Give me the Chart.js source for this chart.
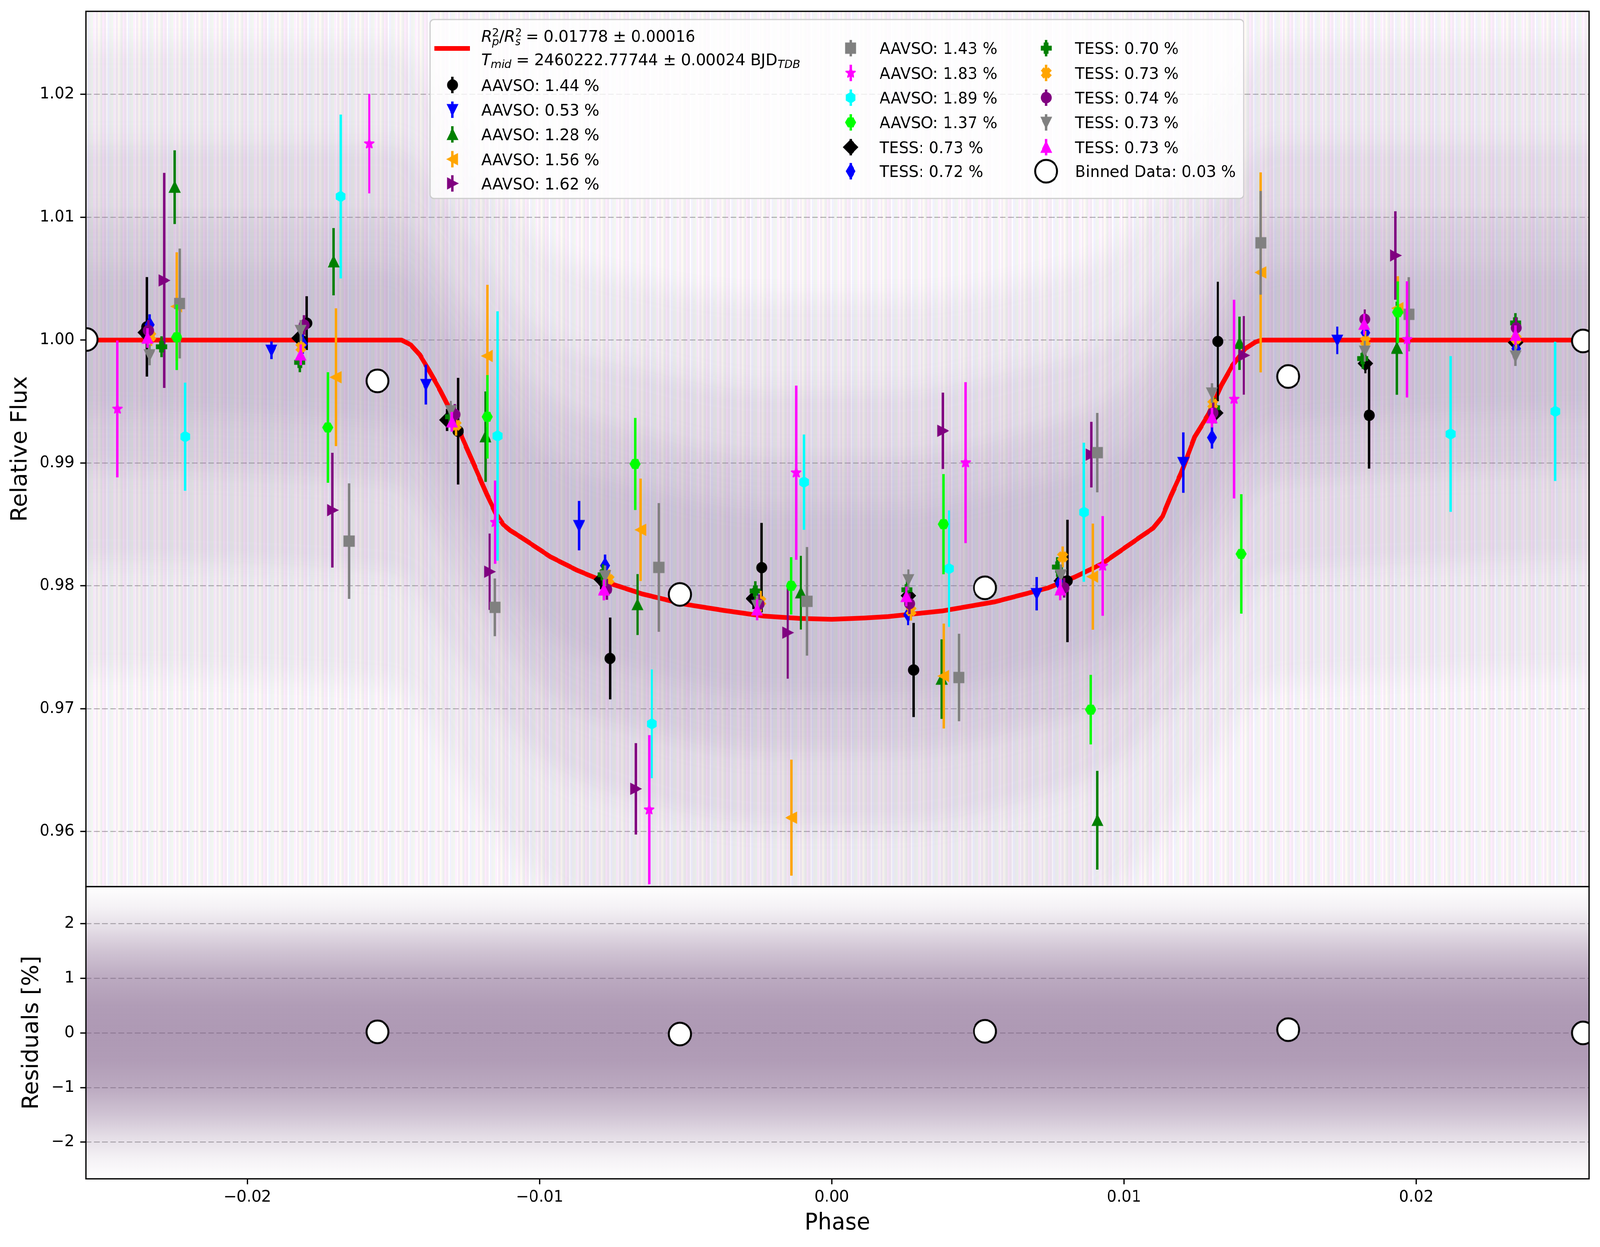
<!DOCTYPE html>
<html lang="en">
<head>
  <meta charset="UTF-8" />
  <title>Transit light curve</title>
  <script src="https://cdn.jsdelivr.net/npm/chart.js"></script>
  <style>
    html, body { margin: 0; padding: 0; background: #fff; overflow: hidden; }
    #stage { position: absolute; left: 0; top: 0; width: 4215px; height: 3192px; transform-origin: 0 0; }
    .panel { position: absolute; left: 0; width: 4215px; }
    #top-panel { top: 0; height: 2300px; z-index: 2; }
    #bottom-panel { top: 2200px; height: 992px; z-index: 1; }
  </style>
</head>
<body>
  <div id="stage">
    <div class="panel" id="top-panel"><canvas id="fluxChart"></canvas></div>
    <div class="panel" id="bottom-panel"><canvas id="residChart"></canvas></div>
  </div>

  <script>
    // ---- data ----
    const aavso144Phase = [-0.02344, -0.01797, -0.01279, -0.00759, -0.00240, 0.00280, 0.00806, 0.01321, 0.01839];
    const aavso144Flux  = [1.00108, 1.00138, 0.99259, 0.97409, 0.98148, 0.97315, 0.98040, 0.99989, 0.99388];
    const aavso144Err   = [0.00405, 0.00219, 0.00434, 0.00333, 0.00364, 0.00383, 0.00498, 0.00486, 0.00434];

    const aavso053Phase = [-0.01918, -0.01389, -0.00865, 0.00701, 0.01203, 0.01730];
    const aavso053Flux  = [0.99917, 0.99638, 0.98490, 0.97936, 0.99003, 0.99998];
    const aavso053Err   = [0.00072, 0.00162, 0.00201, 0.00136, 0.00246, 0.00112];

    const aavso128Phase = [-0.02249, -0.01705, -0.01185, -0.00665, -0.00106, 0.00376, 0.00909, 0.01395, 0.01934];
    const aavso128Flux  = [1.01245, 1.00638, 0.99214, 0.97848, 0.97944, 0.97241, 0.96092, 0.99974, 0.99934];
    const aavso128Err   = [0.00300, 0.00274, 0.00368, 0.00248, 0.00300, 0.00324, 0.00402, 0.00217, 0.00379];

    const aavso156Phase = [-0.02242, -0.01697, -0.01179, -0.00654, -0.00138, 0.00383, 0.00893, 0.01468, 0.01937];
    const aavso156Flux  = [1.00274, 0.99698, 0.99871, 0.98456, 0.96113, 0.97266, 0.98075, 1.00551, 1.00260];
    const aavso156Err   = [0.00441, 0.00561, 0.00579, 0.00417, 0.00472, 0.00427, 0.00432, 0.00814, 0.00260];

    const aavso162Phase = [-0.02285, -0.01709, -0.01171, -0.00671, -0.00151, 0.00380, 0.00888, 0.01410, 0.01929];
    const aavso162Flux  = [1.00486, 0.98616, 0.98115, 0.96348, 0.97619, 0.99262, 0.99068, 0.99876, 1.00689];
    const aavso162Err   = [0.00875, 0.00467, 0.00311, 0.00372, 0.00375, 0.00311, 0.00267, 0.00320, 0.00360];

    const aavso143Phase = [-0.02232, -0.01652, -0.01153, -0.00592, -0.00085, 0.00435, 0.00909, 0.01468, 0.01975];
    const aavso143Flux  = [1.00298, 0.98364, 0.97825, 0.98150, 0.97874, 0.97254, 0.99084, 1.00792, 1.00210];
    const aavso143Err   = [0.00447, 0.00470, 0.00235, 0.00524, 0.00442, 0.00356, 0.00323, 0.00422, 0.00302];

    const aavso183Phase = [-0.02445, -0.01583, -0.01152, -0.00625, -0.00122, 0.00458, 0.00927, 0.01377, 0.01969];
    const aavso183Flux  = [0.99440, 1.01599, 0.98518, 0.96178, 0.98921, 0.99003, 0.98162, 0.99520, 1.00006];
    const aavso183Err   = [0.00557, 0.00405, 0.00339, 0.00607, 0.00709, 0.00655, 0.00406, 0.00809, 0.00473];

    const aavso189Phase = [-0.02213, -0.01681, -0.01144, -0.00616, -0.00095, 0.00401, 0.00863, 0.02118, 0.02476];
    const aavso189Flux  = [0.99214, 1.01169, 0.99220, 0.96877, 0.98844, 0.98140, 0.98599, 0.99236, 0.99420];
    const aavso189Err   = [0.00440, 0.00667, 0.01015, 0.00443, 0.00388, 0.00474, 0.00566, 0.00634, 0.00567];

    const aavso137Phase = [-0.02242, -0.01725, -0.01179, -0.00673, -0.00139, 0.00382, 0.00886, 0.01401, 0.01937];
    const aavso137Flux  = [1.00023, 0.99289, 0.99376, 0.98992, 0.98000, 0.98502, 0.96992, 0.98260, 1.00227];
    const aavso137Err   = [0.00267, 0.00450, 0.00340, 0.00375, 0.00233, 0.00408, 0.00283, 0.00486, 0.00251];

    const tess073aPhase = [-0.02350, -0.01823, -0.01317, -0.00789, -0.00268, 0.00262, 0.00785, 0.01314, 0.01826, 0.02340];
    const tess073aFlux  = [1.00062, 1.00017, 0.99350, 0.98052, 0.97896, 0.97920, 0.98040, 0.99407, 0.99810, 0.99980];
    const tess073aErr   = [0.00080, 0.00085, 0.00090, 0.00080, 0.00085, 0.00090, 0.00080, 0.00085, 0.00080, 0.00085];

    const tess072Phase = [-0.02335, -0.01810, -0.01301, -0.00776, -0.00256, 0.00261, 0.00780, 0.01301, 0.01826, 0.02342];
    const tess072Flux  = [1.00125, 0.99970, 0.99380, 0.98165, 0.97870, 0.97765, 0.98020, 0.99207, 1.00060, 0.99930];
    const tess072Err   = [0.00085, 0.00080, 0.00085, 0.00090, 0.00080, 0.00085, 0.00090, 0.00090, 0.00085, 0.00080];

    const tess070Phase = [-0.02294, -0.01821, -0.01305, -0.00783, -0.00262, 0.00257, 0.00772, 0.01310, 0.01817, 0.02340];
    const tess070Flux  = [0.99946, 0.99819, 0.99376, 0.98090, 0.97958, 0.97968, 0.98153, 0.99450, 0.99850, 1.00140];
    const tess070Err   = [0.00085, 0.00080, 0.00080, 0.00085, 0.00080, 0.00085, 0.00080, 0.00080, 0.00085, 0.00080];

    const tess073bPhase = [-0.02330, -0.01817, -0.01286, -0.00762, -0.00243, 0.00271, 0.00790, 0.01304, 0.01826, 0.02342];
    const tess073bFlux  = [1.00032, 0.99941, 0.99307, 0.98052, 0.97874, 0.97797, 0.98236, 0.99479, 0.99990, 1.00010];
    const tess073bErr   = [0.00080, 0.00085, 0.00085, 0.00080, 0.00085, 0.00080, 0.00085, 0.00080, 0.00085, 0.00080];

    const tess074Phase = [-0.02339, -0.01806, -0.01290, -0.00770, -0.00249, 0.00266, 0.00795, 0.01305, 0.01824, 0.02342];
    const tess074Flux  = [1.00078, 1.00123, 0.99395, 0.97972, 0.97851, 0.97855, 0.97984, 0.99407, 1.00170, 1.00100];
    const tess074Err   = [0.00085, 0.00080, 0.00085, 0.00085, 0.00080, 0.00085, 0.00080, 0.00085, 0.00080, 0.00085];

    const tess073cPhase = [-0.02335, -0.01818, -0.01304, -0.00776, -0.00256, 0.00262, 0.00784, 0.01301, 0.01824, 0.02340];
    const tess073cFlux  = [0.99880, 1.00078, 0.99425, 0.98081, 0.97840, 0.98049, 0.98088, 0.99569, 0.99910, 0.99870];
    const tess073cErr   = [0.00085, 0.00085, 0.00080, 0.00085, 0.00080, 0.00085, 0.00085, 0.00080, 0.00085, 0.00080];

    const tess073dPhase = [-0.02342, -0.01818, -0.01300, -0.00780, -0.00256, 0.00255, 0.00782, 0.01301, 0.01822, 0.02340];
    const tess073dFlux  = [1.00017, 0.99880, 0.99335, 0.97967, 0.97805, 0.97914, 0.97968, 0.99369, 1.00130, 1.00040];
    const tess073dErr   = [0.00080, 0.00085, 0.00080, 0.00085, 0.00085, 0.00080, 0.00085, 0.00080, 0.00085, 0.00080];

    const binnedPhase = [-0.02551, -0.01555, -0.00520, 0.00524, 0.01562, 0.02571];
    const binnedFlux  = [1.00005, 0.99668, 0.97930, 0.97984, 0.99704, 0.99993];
    const binnedResidPhase = [-0.01555, -0.00520, 0.00524, 0.01562, 0.02571];
    const binnedResid      = [0.02, -0.02, 0.03, 0.06, 0.00];

    const modelPhase = [-0.02560, -0.01472, -0.01440, -0.01410, -0.01380, -0.01340, -0.01300, -0.01260, -0.01220,
      -0.01180, -0.01150, -0.01125, -0.01100, -0.01060, -0.00962, -0.00870, -0.00780, -0.00650, -0.00507, -0.00370,
      -0.00233, -0.00110, 0.00000, 0.00110, 0.00193, 0.00376, 0.00558, 0.00740, 0.00830, 0.00923, 0.01059, 0.01100,
      0.01132, 0.01160, 0.01196, 0.01242, 0.01290, 0.01333, 0.01370, 0.01415, 0.01450, 0.01472, 0.02600];
    const modelFlux = [1.00000, 1.00000, 0.99960, 0.99880, 0.99760, 0.99590, 0.99400, 0.99180, 0.98960,
      0.98740, 0.98590, 0.98500, 0.98450, 0.98390, 0.98235, 0.98125, 0.98036, 0.97935, 0.97852, 0.97800,
      0.97754, 0.97735, 0.97728, 0.97738, 0.97750, 0.97795, 0.97870, 0.97983, 0.98070, 0.98177, 0.98403, 0.98470,
      0.98565, 0.98730, 0.98920, 0.99212, 0.99400, 0.99630, 0.99790, 0.99930, 0.99985, 1.00000, 1.00000];

    // envelopes of the faint unbinned points (outer to inner)
    const hazeFullPhase = [-0.0260, 0.0260];
    const hazeFullHi = [1.0268, 1.0268];
    const hazeFullLo = [0.9556, 0.9556];
    const hazePhase = [-0.0300, -0.0150, -0.0125, -0.0100, -0.0060, -0.0020, 0.0020, 0.0060, 0.0100, 0.0125, 0.0150, 0.0300];
    const hazeOuterHi = [1.0240, 1.0240, 1.0160, 1.0080, 1.0045, 1.0035, 1.0035, 1.0045, 1.0080, 1.0160, 1.0240, 1.0240];
    const hazeOuterLo = [0.9730, 0.9720, 0.9640, 0.9560, 0.9520, 0.9500, 0.9500, 0.9520, 0.9560, 0.9640, 0.9720, 0.9730];
    const hazeMidHi   = [1.0160, 1.0160, 1.0090, 1.0010, 0.9975, 0.9960, 0.9960, 0.9975, 1.0010, 1.0090, 1.0160, 1.0160];
    const hazeMidLo   = [0.9820, 0.9810, 0.9730, 0.9660, 0.9620, 0.9605, 0.9605, 0.9620, 0.9660, 0.9730, 0.9810, 0.9820];
    const hazeCoreHi  = [1.0100, 1.0100, 1.0030, 0.9960, 0.9920, 0.9905, 0.9905, 0.9920, 0.9960, 1.0030, 1.0100, 1.0100];
    const hazeCoreLo  = [0.9895, 0.9885, 0.9800, 0.9720, 0.9680, 0.9665, 0.9665, 0.9680, 0.9720, 0.9800, 0.9885, 0.9895];
    const hazeInnerHi = [1.0060, 1.0060, 0.9990, 0.9915, 0.9880, 0.9865, 0.9865, 0.9880, 0.9915, 0.9990, 1.0060, 1.0060];
    const hazeInnerLo = [0.9940, 0.9930, 0.9850, 0.9765, 0.9725, 0.9710, 0.9710, 0.9725, 0.9765, 0.9850, 0.9930, 0.9940];
    const residBandPhase = [-0.0260, 0.0260];
    const residBandHi = [2.7, 2.7];
    const residBandLo = [-2.7, -2.7];

    const seriesLabels = ['AAVSO: 1.44 %', 'AAVSO: 0.53 %', 'AAVSO: 1.28 %', 'AAVSO: 1.56 %', 'AAVSO: 1.62 %',
      'AAVSO: 1.43 %', 'AAVSO: 1.83 %', 'AAVSO: 1.89 %', 'AAVSO: 1.37 %', 'TESS: 0.73 %', 'TESS: 0.72 %',
      'TESS: 0.70 %', 'TESS: 0.73 %', 'TESS: 0.74 %', 'TESS: 0.73 %', 'TESS: 0.73 %'];
    const binnedLabel = 'Binned Data: 0.03 %';

    const X_MIN = -0.025532, X_MAX = 0.025914;

    // fit the 4215x3192 layout into whatever viewport we get
    const stage = document.getElementById('stage');
    stage.style.transform = 'scale(' + (window.innerWidth / 4215) + ',' + (window.innerHeight / 3192) + ')';

    // ---- drawing helpers ----
    Chart.defaults.font.family = 'DejaVu Sans';
    Chart.defaults.color = '#000';

    function poly(g, pts) {
      g.moveTo(pts[0][0], pts[0][1]);
      for (let i = 1; i < pts.length; i++) g.lineTo(pts[i][0], pts[i][1]);
      g.closePath();
    }

    function ring(n, r, start) {
      const pts = [];
      for (let k = 0; k < n; k++) {
        const a = start + 2 * Math.PI * k / n;
        pts.push([r * Math.cos(a), r * Math.sin(a)]);
      }
      return pts;
    }

    // matplotlib-like marker drawn into a small canvas, used as pointStyle
    function makeMarker(shape, face, size, edge, lw) {
      edge = edge || face;
      lw = lw === undefined ? 4 : lw;
      const half = Math.ceil(size * 0.75 + lw + 4);
      const c = document.createElement('canvas');
      c.width = c.height = half * 2;
      const g = c.getContext('2d');
      g.translate(half, half);
      g.beginPath();
      const h = size / 2;
      let join = 'round';
      if (shape === 'o') g.arc(0, 0, h, 0, 2 * Math.PI);
      else if (shape === '^') { poly(g, [[0, -h], [h, h], [-h, h]]); join = 'miter'; }
      else if (shape === 'v') { poly(g, [[0, h], [h, -h], [-h, -h]]); join = 'miter'; }
      else if (shape === '<') { poly(g, [[-h, 0], [h, -h], [h, h]]); join = 'miter'; }
      else if (shape === '>') { poly(g, [[h, 0], [-h, -h], [-h, h]]); join = 'miter'; }
      else if (shape === 's') { g.rect(-h, -h, size, size); join = 'miter'; }
      else if (shape === 'D' || shape === 'd') {
        const d = size / Math.SQRT2, w = shape === 'd' ? 0.6 * d : d;
        poly(g, [[0, -d], [w, 0], [0, d], [-w, 0]]); join = 'miter';
      } else if (shape === '*') {
        const pts = [];
        for (let k = 0; k < 10; k++) {
          const r = k % 2 ? h * 0.381966 : h;
          const a = -Math.PI / 2 + Math.PI * k / 5;
          pts.push([r * Math.cos(a), r * Math.sin(a)]);
        }
        poly(g, pts);
      } else if (shape === 'h') poly(g, ring(6, h, -Math.PI / 2));
      else if (shape === 'H') poly(g, ring(6, h, 0));
      else if (shape === 'P' || shape === 'X') {
        const u = size / 6;
        let pts = [[-1, -3], [1, -3], [1, -1], [3, -1], [3, 1], [1, 1], [1, 3], [-1, 3], [-1, 1], [-3, 1], [-3, -1], [-1, -1]]
          .map(p => [p[0] * u, p[1] * u]);
        if (shape === 'X') {
          const ca = Math.SQRT1_2;
          pts = pts.map(p => [ca * (p[0] - p[1]), ca * (p[0] + p[1])]);
        }
        poly(g, pts); join = 'miter';
      }
      g.fillStyle = face;
      g.fill();
      if (lw > 0) {
        g.lineJoin = join;
        g.lineWidth = lw;
        g.strokeStyle = edge;
        g.stroke();
      }
      return c;
    }

    // thin vertical streaks, a stand-in for the thousands of faint error bars
    function stripePattern(k) {
      const c = document.createElement('canvas');
      c.width = 53; c.height = 8;
      const g = c.getContext('2d');
      [[0, 5, 'rgba(128,128,128,', 0.16], [5, 4, 'rgba(255,0,255,', 0.10], [9, 6, 'rgba(128,0,128,', 0.10],
       [18, 5, 'rgba(0,0,255,', 0.07], [23, 6, 'rgba(128,128,128,', 0.12], [29, 4, 'rgba(0,128,0,', 0.07],
       [33, 5, 'rgba(255,0,255,', 0.08], [40, 6, 'rgba(128,0,128,', 0.09], [46, 4, 'rgba(255,165,0,', 0.06],
       [50, 3, 'rgba(128,128,128,', 0.10]].forEach(([x, w, col, a]) => {
        g.fillStyle = col + (a * k) + ')';
        g.fillRect(x, 0, w, 8);
      });
      return g.createPattern(c, 'repeat');
    }

    const xy = (xs, ys) => xs.map((v, i) => ({ x: v, y: ys[i] }));

    const MS = 25;   // marker size
    const series = [
      { label: seriesLabels[0],  shape: 'o', color: 'black',   phase: aavso144Phase, flux: aavso144Flux, err: aavso144Err },
      { label: seriesLabels[1],  shape: 'v', color: 'blue',    phase: aavso053Phase, flux: aavso053Flux, err: aavso053Err },
      { label: seriesLabels[2],  shape: '^', color: 'green',   phase: aavso128Phase, flux: aavso128Flux, err: aavso128Err },
      { label: seriesLabels[3],  shape: '<', color: 'orange',  phase: aavso156Phase, flux: aavso156Flux, err: aavso156Err },
      { label: seriesLabels[4],  shape: '>', color: 'purple',  phase: aavso162Phase, flux: aavso162Flux, err: aavso162Err },
      { label: seriesLabels[5],  shape: 's', color: 'gray',    phase: aavso143Phase, flux: aavso143Flux, err: aavso143Err },
      { label: seriesLabels[6],  shape: '*', color: 'magenta', phase: aavso183Phase, flux: aavso183Flux, err: aavso183Err },
      { label: seriesLabels[7],  shape: 'h', color: 'cyan',    phase: aavso189Phase, flux: aavso189Flux, err: aavso189Err },
      { label: seriesLabels[8],  shape: 'H', color: 'lime',    phase: aavso137Phase, flux: aavso137Flux, err: aavso137Err },
      { label: seriesLabels[9],  shape: 'D', color: 'black',   phase: tess073aPhase, flux: tess073aFlux, err: tess073aErr },
      { label: seriesLabels[10], shape: 'd', color: 'blue',    phase: tess072Phase,  flux: tess072Flux,  err: tess072Err },
      { label: seriesLabels[11], shape: 'P', color: 'green',   phase: tess070Phase,  flux: tess070Flux,  err: tess070Err },
      { label: seriesLabels[12], shape: 'X', color: 'orange',  phase: tess073bPhase, flux: tess073bFlux, err: tess073bErr },
      { label: seriesLabels[13], shape: 'o', color: 'purple',  phase: tess074Phase,  flux: tess074Flux,  err: tess074Err },
      { label: seriesLabels[14], shape: 'v', color: 'gray',    phase: tess073cPhase, flux: tess073cFlux, err: tess073cErr },
      { label: seriesLabels[15], shape: '^', color: 'magenta', phase: tess073dPhase, flux: tess073dFlux, err: tess073dErr },
    ];
    series.forEach(s => { s.marker = makeMarker(s.shape, s.color, MS); });
    const binnedMarker = makeMarker('o', '#ffffff', 58, '#000000', 5);

    // ---- plugins ----
    const errorBars = {
      id: 'errorBars',
      beforeDatasetDraw(chart, args) {
        const ds = chart.data.datasets[args.index];
        if (!ds.errors) return;
        const { ctx, chartArea: a, scales: { x, y } } = chart;
        ctx.save();
        ctx.beginPath();
        ctx.rect(a.left, a.top, a.right - a.left, a.bottom - a.top);
        ctx.clip();
        ctx.strokeStyle = ds.barColor;
        ctx.lineWidth = 6.25;
        ds.data.forEach((p, i) => {
          const px = x.getPixelForValue(p.x);
          ctx.beginPath();
          ctx.moveTo(px, y.getPixelForValue(p.y - ds.errors[i]));
          ctx.lineTo(px, y.getPixelForValue(p.y + ds.errors[i]));
          ctx.stroke();
        });
        ctx.restore();
      }
    };

    // soft edges for the solid haze bands: blur is on from the first dataset
    // until the band flagged endBlur has been drawn
    const hazeBlur = {
      id: 'hazeBlur',
      beforeDatasetsDraw(chart) {
        if (chart.data.datasets.some(d => d.endBlur)) chart.ctx.filter = 'blur(30px)';
      },
      afterDatasetDraw(chart, args) {
        if (chart.data.datasets[args.index].endBlur) chart.ctx.filter = 'none';
      }
    };

    const frame = {
      id: 'frame',
      afterDatasetsDraw(chart) {
        const { ctx, chartArea: a } = chart;
        ctx.save();
        ctx.filter = 'none';
        ctx.lineWidth = 3.3;
        ctx.strokeStyle = '#000';
        ctx.strokeRect(a.left, a.top, a.right - a.left, a.bottom - a.top);
        ctx.restore();
      }
    };

    function richText(ctx, parts, x, baseline) {
      let cx = x;
      parts.forEach(p => {
        const size = 41 * (p.s || 1);
        ctx.font = (p.it ? 'italic ' : '') + size + 'px "DejaVu Sans"';
        ctx.fillText(p.t, cx, baseline + (p.dy || 0));
        if (!p.hold) cx += ctx.measureText(p.t).width;
      });
    }

    const legendBox = {
      id: 'legendBox',
      afterDraw(chart) {
        const ctx = chart.ctx;
        const bx = 1133, by = 50, bw = 2143, bh = 458, r = 10;
        ctx.save();
        ctx.filter = 'none';
        ctx.beginPath();
        ctx.moveTo(bx + r, by);
        ctx.arcTo(bx + bw, by, bx + bw, by + bh, r);
        ctx.arcTo(bx + bw, by + bh, bx, by + bh, r);
        ctx.arcTo(bx, by + bh, bx, by, r);
        ctx.arcTo(bx, by, bx + bw, by, r);
        ctx.closePath();
        ctx.fillStyle = 'rgba(255,255,255,0.8)';
        ctx.fill();
        ctx.lineWidth = 3;
        ctx.strokeStyle = '#cccccc';
        ctx.stroke();

        ctx.fillStyle = '#000';
        ctx.textBaseline = 'alphabetic';
        ctx.textAlign = 'left';

        // model entry
        ctx.strokeStyle = 'red';
        ctx.lineWidth = 12;
        ctx.beginPath();
        ctx.moveTo(1144, 124);
        ctx.lineTo(1238, 124);
        ctx.stroke();
        richText(ctx, [
          { t: 'R', it: true }, { t: '2', s: 0.7, dy: -14, hold: true }, { t: 'p', it: true, s: 0.7, dy: 9 },
          { t: '/' }, { t: 'R', it: true }, { t: '2', s: 0.7, dy: -14, hold: true }, { t: 's', it: true, s: 0.7, dy: 9 },
          { t: ' = 0.01778 \u00b1 0.00016' }
        ], 1268, 107);
        richText(ctx, [
          { t: 'T', it: true }, { t: 'mid', it: true, s: 0.7, dy: 7 },
          { t: ' = 2460222.77744 \u00b1 0.00024 BJD' }, { t: 'TDB', it: true, s: 0.7, dy: 7 }
        ], 1268, 167);

        const handle = (s, hx, cy) => {
          ctx.strokeStyle = s.color;
          ctx.lineWidth = 6.25;
          ctx.beginPath();
          ctx.moveTo(hx, cy - 21);
          ctx.lineTo(hx, cy + 21);
          ctx.stroke();
          ctx.drawImage(s.marker, hx - s.marker.width / 2, cy - s.marker.height / 2);
        };
        const entry = (s, hx, tx, cy) => {
          handle(s, hx, cy);
          ctx.fillStyle = '#000';
          ctx.font = '41px "DejaVu Sans"';
          ctx.fillText(s.label, tx, cy + 15);
        };
        const col1 = [217.5, 280.8, 344, 407.5, 469.5];
        const col23 = [123.3, 186.7, 250, 313.3, 376.7, 438.3];
        for (let i = 0; i < 5; i++) entry(series[i], 1192, 1268, col1[i]);
        for (let i = 0; i < 6; i++) entry(series[5 + i], 2241, 2317, col23[i]);
        for (let i = 0; i < 5; i++) entry(series[11 + i], 2756, 2832, col23[i]);
        ctx.drawImage(binnedMarker, 2756 - binnedMarker.width / 2, col23[5] - binnedMarker.height / 2);
        ctx.fillStyle = '#000';
        ctx.font = '41px "DejaVu Sans"';
        ctx.fillText(binnedLabel, 2832, col23[5] + 15);
        ctx.restore();
      }
    };

    const zeroPad = s => { s.paddingTop = 0; s.paddingBottom = 0; s.paddingLeft = 0; s.paddingRight = 0; };
    const minus = t => t.replace('-', '\u2212');

    function band(hiData, loData, fillStyle, order, endBlur) {
      return [
        { type: 'line', data: hiData, fill: '+1', backgroundColor: fillStyle, borderColor: 'rgba(0,0,0,0)',
          borderWidth: 0, pointRadius: 0, cubicInterpolationMode: 'monotone', order: order, clip: 0, endBlur: !!endBlur },
        { type: 'line', data: loData, fill: false, borderColor: 'rgba(0,0,0,0)', borderWidth: 0,
          pointRadius: 0, cubicInterpolationMode: 'monotone', order: order, clip: 0 }
      ];
    }

    // ---- top panel: relative flux ----
    const fluxSets = [
      ...band(xy(hazePhase, hazeOuterHi), xy(hazePhase, hazeOuterLo), 'rgba(150,135,170,0.10)', 110),
      ...band(xy(hazePhase, hazeMidHi), xy(hazePhase, hazeMidLo), 'rgba(145,125,165,0.12)', 109),
      ...band(xy(hazePhase, hazeCoreHi), xy(hazePhase, hazeCoreLo), 'rgba(140,120,160,0.14)', 108),
      ...band(xy(hazePhase, hazeInnerHi), xy(hazePhase, hazeInnerLo), 'rgba(135,115,155,0.12)', 107, true),
      ...band(xy(hazeFullPhase, hazeFullHi), xy(hazeFullPhase, hazeFullLo), stripePattern(0.8), 100),
      { type: 'line', data: xy(modelPhase, modelFlux), borderColor: '#ff0000', borderWidth: 12,
        pointRadius: 0, tension: 0, fill: false, order: 60, clip: 0, borderJoinStyle: 'round' },
      ...series.map((s, i) => ({
        type: 'scatter', label: s.label, data: xy(s.phase, s.flux), errors: s.err, barColor: s.color,
        pointStyle: s.marker, pointRadius: 3, order: 50 - i, clip: 0
      })),
      { type: 'scatter', label: binnedLabel, data: xy(binnedPhase, binnedFlux), pointStyle: binnedMarker,
        pointRadius: 3, order: 0, clip: 0 }
    ];

    new Chart(document.getElementById('fluxChart'), {
      type: 'scatter',
      data: { datasets: fluxSets },
      options: {
        responsive: true,
        maintainAspectRatio: false,
        animation: false,
        events: [],
        layout: { padding: { left: 19.7, right: 29, top: 29, bottom: 30.5 } },
        plugins: { legend: { display: false }, tooltip: { enabled: false } },
        scales: {
          x: { type: 'linear', display: false, min: X_MIN, max: X_MAX,
            afterFit: s => { s.height = 0; zeroPad(s); } },
          y: {
            type: 'linear', min: 0.95552, max: 1.02676,
            afterFit: s => { s.width = 206.3; zeroPad(s); },
            ticks: { stepSize: 0.01, includeBounds: false, padding: 15.7, font: { size: 41 }, color: '#000',
              callback: v => v.toFixed(2) },
            grid: { color: '#b0b0b0', lineWidth: 2.5, tickColor: '#000', tickWidth: 3.3, tickLength: 14.5 },
            border: { display: false, dash: [15, 6.5] },
            title: { display: true, text: 'Relative Flux', font: { size: 58 }, padding: 0, color: '#000' }
          }
        }
      },
      plugins: [hazeBlur, errorBars, frame, legendBox]
    });

    // ---- bottom panel: residuals ----
    const residLevels = [2.7, 2.3, 1.9, 1.5, 1.0, 0.5, 0, -0.5, -1.0, -1.5, -1.9, -2.3, -2.7];
    const residAlpha  = [0.0, 0.08, 0.2, 0.35, 0.5, 0.58, 0.6, 0.58, 0.5, 0.35, 0.2, 0.08, 0.0];
    const residFill = c => {
      const { ctx, chartArea, scales } = c.chart;
      if (!chartArea) return 'rgba(0,0,0,0)';
      const top = scales.y.getPixelForValue(2.7), bot = scales.y.getPixelForValue(-2.7);
      const g = ctx.createLinearGradient(0, top, 0, bot);
      residLevels.forEach((v, i) => g.addColorStop((2.7 - v) / 5.4, 'rgba(120,85,130,' + residAlpha[i] + ')'));
      return g;
    };

    new Chart(document.getElementById('residChart'), {
      type: 'scatter',
      data: {
        datasets: [
          ...band(xy(residBandPhase, residBandHi), xy(residBandPhase, residBandLo), residFill, 100),
          { type: 'scatter', label: binnedLabel, data: xy(binnedResidPhase, binnedResid), pointStyle: binnedMarker,
            pointRadius: 3, order: 0, clip: 0 }
        ]
      },
      options: {
        responsive: true,
        maintainAspectRatio: false,
        animation: false,
        events: [],
        layout: { padding: { left: 50.2, right: 29, top: 69.5, bottom: 25.6 } },
        plugins: { legend: { display: false }, tooltip: { enabled: false } },
        scales: {
          x: {
            type: 'linear', min: X_MIN, max: X_MAX,
            afterFit: s => { s.height = 148.9; zeroPad(s); },
            ticks: { stepSize: 0.01, includeBounds: false, padding: 9.4, font: { size: 41 }, color: '#000',
              maxRotation: 0, autoSkip: false,
              callback: v => Math.abs(v) < 1e-9 ? '0.00' : minus(v.toFixed(2)) },
            grid: { drawOnChartArea: false, color: '#000', tickColor: '#000', tickWidth: 3.3, tickLength: 14 },
            border: { display: false },
            title: { display: true, text: 'Phase', font: { size: 58 }, padding: 0, color: '#000' }
          },
          y: {
            type: 'linear', min: -2.671, max: 2.679,
            afterFit: s => { s.width = 175.8; zeroPad(s); },
            ticks: { stepSize: 1, includeBounds: false, padding: 15.7, font: { size: 41 }, color: '#000',
              callback: v => minus(String(Math.round(v))) },
            grid: { color: '#b0b0b0', lineWidth: 2.5, tickColor: '#000', tickWidth: 3.3, tickLength: 14.5 },
            border: { display: false, dash: [15, 6.5] },
            title: { display: true, text: 'Residuals [%]', font: { size: 58 }, padding: 0, color: '#000' }
          }
        }
      },
      plugins: [errorBars, frame]
    });
  </script>
</body>
</html>
